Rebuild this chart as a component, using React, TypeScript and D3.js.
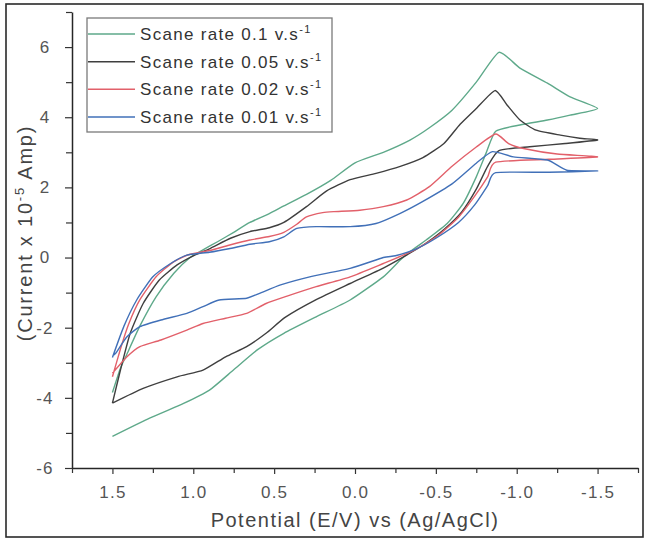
import React, { useEffect, useRef } from 'react'
import * as d3 from 'd3'

// legend text and colours, in legend order
const seriesLabels = ['Scane rate 0.1 v.s', 'Scane rate 0.05 v.s', 'Scane rate 0.02 v.s', 'Scane rate 0.01 v.s']
const seriesColors = ['#5ea98a', '#3f3f3f', '#e2606a', '#4170b8']

// each loop traced from the start at 1.5 V, over to -1.5 V and back again
// potential in V, current in units of 10^-5 A
const potential01 = [1.5, 1.45, 1.41, 1.33, 1.23, 1.12, 1.02, 0.94, 0.85, 0.75, 0.65, 0.53, 0.44, 0.3, 0.15, 0.0, -0.175, -0.34, -0.46, -0.6, -0.75, -0.89, -1.02, -1.19, -1.33, -1.5, -1.33, -1.19, -1.02, -0.87, -0.81, -0.75, -0.67, -0.57, -0.44, -0.35, -0.28, -0.175, 0.03, 0.24, 0.44, 0.6, 0.75, 0.9, 1.06, 1.27, 1.5]
const current01 = [-3.85, -3.15, -2.75, -1.95, -1.12, -0.45, 0.0, 0.22, 0.45, 0.72, 1.0, 1.25, 1.47, 1.8, 2.2, 2.7, 3.0, 3.35, 3.7, 4.2, 5.0, 5.85, 5.4, 4.97, 4.58, 4.25, 4.06, 3.92, 3.78, 3.6, 2.97, 2.3, 1.55, 0.97, 0.5, 0.2, -0.07, -0.55, -1.21, -1.69, -2.16, -2.62, -3.2, -3.78, -4.16, -4.58, -5.1]

const potential005 = [1.5, 1.45, 1.39, 1.31, 1.21, 1.1, 1.0, 0.9, 0.77, 0.65, 0.53, 0.44, 0.3, 0.175, 0.03, -0.13, -0.28, -0.42, -0.55, -0.65, -0.75, -0.866, -0.94, -1.02, -1.12, -1.27, -1.39, -1.5, -1.3, -1.08, -0.89, -0.82, -0.75, -0.66, -0.55, -0.42, -0.3, -0.175, 0.03, 0.24, 0.43, 0.55, 0.67, 0.8, 0.94, 1.1, 1.31, 1.5]
const current005 = [-4.15, -3.2, -2.16, -1.31, -0.64, -0.21, 0.05, 0.25, 0.55, 0.74, 0.85, 1.0, 1.45, 1.9, 2.22, 2.4, 2.6, 2.85, 3.25, 3.8, 4.25, 4.76, 4.35, 3.92, 3.63, 3.49, 3.4, 3.35, 3.25, 3.16, 3.05, 2.6, 1.95, 1.3, 0.8, 0.35, 0.02, -0.3, -0.74, -1.2, -1.7, -2.16, -2.54, -2.83, -3.21, -3.4, -3.73, -4.15]

const potential002 = [1.5, 1.45, 1.4, 1.33, 1.23, 1.13, 1.03, 0.9, 0.78, 0.65, 0.53, 0.44, 0.36, 0.3, 0.2, 0.13, -0.03, -0.175, -0.32, -0.46, -0.6, -0.75, -0.87, -0.95, -1.05, -1.25, -1.5, -1.2, -0.87, -0.82, -0.74, -0.64, -0.52, -0.4, -0.28, -0.175, 0.03, 0.24, 0.42, 0.55, 0.67, 0.8, 0.94, 1.04, 1.2, 1.33, 1.41, 1.5]
const current002 = [-3.4, -2.6, -1.9, -1.2, -0.55, -0.15, 0.08, 0.2, 0.35, 0.5, 0.6, 0.72, 0.95, 1.16, 1.28, 1.31, 1.35, 1.45, 1.64, 2.02, 2.6, 3.15, 3.52, 3.25, 3.1, 2.95, 2.87, 2.8, 2.72, 2.3, 1.75, 1.15, 0.65, 0.3, 0.03, -0.17, -0.55, -0.83, -1.1, -1.31, -1.59, -1.73, -1.88, -2.07, -2.35, -2.54, -2.83, -3.3]

const potential001 = [1.5, 1.43, 1.35, 1.25, 1.14, 1.04, 0.9, 0.78, 0.65, 0.53, 0.44, 0.36, 0.24, 0.03, -0.13, -0.28, -0.42, -0.6, -0.75, -0.85, -0.98, -1.19, -1.31, -1.5, -1.2, -0.87, -0.82, -0.74, -0.64, -0.5, -0.38, -0.25, -0.175, 0.03, 0.28, 0.46, 0.59, 0.67, 0.84, 0.94, 1.04, 1.2, 1.33, 1.41, 1.48, 1.5]
const current001 = [-2.85, -1.97, -1.21, -0.55, -0.17, 0.07, 0.15, 0.25, 0.38, 0.45, 0.59, 0.83, 0.88, 0.88, 0.97, 1.26, 1.6, 2.1, 2.69, 3.02, 2.87, 2.78, 2.49, 2.47, 2.43, 2.42, 2.05, 1.5, 1.0, 0.55, 0.25, 0.05, 0.0, -0.31, -0.55, -0.78, -1.02, -1.16, -1.21, -1.4, -1.59, -1.78, -1.97, -2.26, -2.73, -2.8]

// axis ticks
const xMajorTicks = [1.5, 1.0, 0.5, 0.0, -0.5, -1.0, -1.5]
const xMinorTicks = [1.75, 1.25, 0.75, 0.25, -0.25, -0.75, -1.25, -1.75]
const yMajorTicks = [-6, -4, -2, 0, 2, 4, 6]
const yMinorTicks = [-5, -3, -1, 1, 3, 5, 7]

const FONT = '"Liberation Sans", Arial, sans-serif'

export default function App() {
    const ref = useRef<SVGSVGElement>(null)

    useEffect(() => {
        const svg = d3.select(ref.current)
        svg.selectAll('*').remove()

        const width = 646
        const height = 538

        const x = d3.scaleLinear().domain([1.75, -1.75]).range([72, 638])
        const y = d3.scaleLinear().domain([-6, 7]).range([468, 12])

        // outer frame
        svg.append('rect')
            .attr('x', 6).attr('y', 4)
            .attr('width', width - 9).attr('height', height - 5)
            .attr('fill', 'none')
            .attr('stroke', '#2a2a2a')
            .attr('stroke-width', 1.6)

        // x axis, major then minor ticks
        const xAxis = svg.append('g').attr('transform', 'translate(0,468)')
        xAxis.call(d3.axisBottom(x)
            .tickValues(xMajorTicks)
            .tickFormat((d: any) => d.toFixed(1))
            .tickSizeInner(6).tickSizeOuter(0).tickPadding(12))
        svg.append('g').attr('transform', 'translate(0,468)')
            .call(d3.axisBottom(x).tickValues(xMinorTicks).tickFormat(() => '').tickSizeInner(5).tickSizeOuter(0))
            .select('.domain').remove()

        // y axis
        const yAxis = svg.append('g').attr('transform', 'translate(72,0)')
        yAxis.call(d3.axisLeft(y)
            .tickValues(yMajorTicks)
            .tickFormat((d: any) => String(d))
            .tickSizeInner(7).tickSizeOuter(0))
        yAxis.selectAll('.tick text')
            .attr('x', -27)
            .attr('text-anchor', 'middle')
        svg.append('g').attr('transform', 'translate(72,0)')
            .call(d3.axisLeft(y).tickValues(yMinorTicks).tickFormat(() => '').tickSizeInner(6).tickSizeOuter(0))
            .select('.domain').remove()

        svg.selectAll('.domain').attr('stroke', '#262626').attr('stroke-width', 1.5)
        svg.selectAll('.tick line').attr('stroke', '#333').attr('stroke-width', 1.2)
        svg.selectAll('.tick text')
            .attr('font-family', FONT)
            .attr('font-size', 17)
            .attr('letter-spacing', 1.2)
            .attr('fill', '#555')

        // axis titles
        svg.append('text')
            .attr('x', 355).attr('y', 527)
            .attr('text-anchor', 'middle')
            .attr('font-family', FONT).attr('font-size', 20)
            .attr('letter-spacing', 1.5)
            .attr('fill', '#444')
            .text('Potential (E/V) vs (Ag/AgCl)')

        const yTitle = svg.append('text')
            .attr('transform', 'translate(32,233) rotate(-90)')
            .attr('text-anchor', 'middle')
            .attr('font-family', FONT).attr('font-size', 20)
            .attr('letter-spacing', 1.8)
            .attr('fill', '#444')
        yTitle.append('tspan').text('(Current x 10')
        yTitle.append('tspan').attr('dy', -8).attr('font-size', 13).text('-5')
        yTitle.append('tspan').attr('dy', 8).text(' Amp)')

        // the loops
        const series = [
            { E: potential01, I: current01 },
            { E: potential005, I: current005 },
            { E: potential002, I: current002 },
            { E: potential001, I: current001 },
        ]

        const path = d3.line<[number, number]>()
            .x(d => x(d[0]))
            .y(d => y(d[1]))
            .curve(d3.curveCardinal.tension(0.45))

        series.forEach((s, k) => {
            const pts: [number, number][] = s.E.map((e, i) => [e, s.I[i]])
            svg.append('path')
                .attr('d', path(pts))
                .attr('fill', 'none')
                .attr('stroke', seriesColors[k])
                .attr('stroke-width', 1.4)
                .attr('stroke-linejoin', 'round')
        })

        // legend
        const legend = svg.append('g')
        legend.append('rect')
            .attr('x', 87).attr('y', 18)
            .attr('width', 245).attr('height', 114)
            .attr('fill', 'white')
            .attr('stroke', '#7a7a7a')
            .attr('stroke-width', 1.3)

        const rowY = d3.scalePoint<number>().domain(d3.range(seriesLabels.length)).range([34, 117])

        seriesLabels.forEach((label, k) => {
            const yy = rowY(k) as number
            legend.append('line')
                .attr('x1', 88).attr('x2', 135)
                .attr('y1', yy).attr('y2', yy)
                .attr('stroke', seriesColors[k])
                .attr('stroke-width', 1.5)
            const t = legend.append('text')
                .attr('x', 140).attr('y', yy + 6)
                .attr('font-family', FONT).attr('font-size', 17)
                .attr('letter-spacing', 1.3)
                .attr('fill', '#333')
            t.append('tspan').text(label)
            t.append('tspan').attr('dy', -7).attr('font-size', 11).text('-1')
        })
    }, [])

    return (
        <svg
            ref={ref}
            width={646}
            height={538}
            style={{ position: 'absolute', left: 0, top: 0, background: 'white', display: 'block' }}
        />
    )
}
